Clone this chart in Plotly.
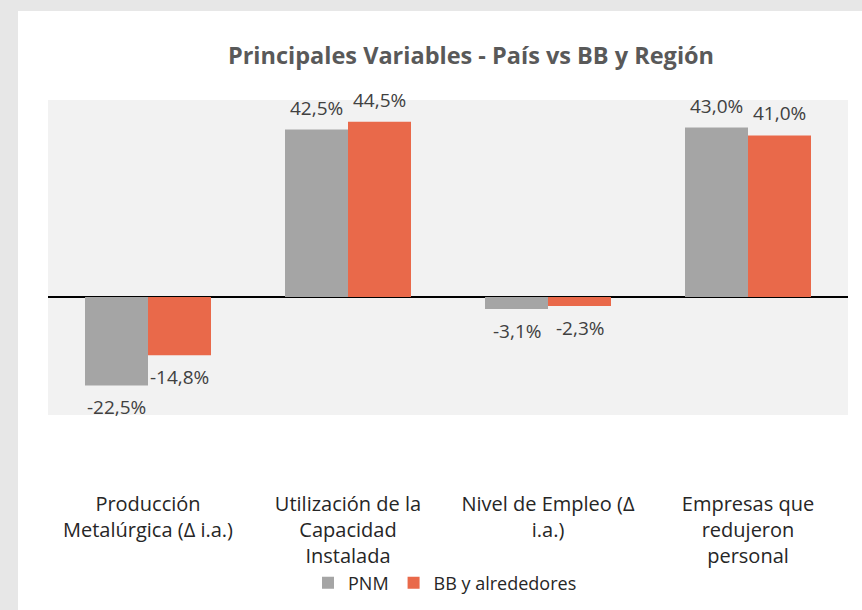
import plotly.graph_objects as go

categories = [
    "Producción<br>Metalúrgica (Δ i.a.)",
    "Utilización de la<br>Capacidad<br>Instalada",
    "Nivel de Empleo (Δ<br>i.a.)",
    "Empresas que<br>redujeron<br>personal",
]
series_names = ["PNM", "BB y alrededores"]
pnm_values = [-22.5, 42.5, -3.1, 43.0]
bb_values = [-14.8, 44.5, -2.3, 41.0]
title_text = "Principales Variables - País vs BB y Región"

colors = ["#A5A5A5", "#E9694A"]
FONT = "Open Sans"
BARGAP = 0.37

x_idx = list(range(len(categories)))

fig = go.Figure()
for name, vals, col in zip(series_names, [pnm_values, bb_values], colors):
    fig.add_trace(go.Bar(
        x=x_idx, y=vals, name=name, marker=dict(color=col, line=dict(width=0)),
        hoverinfo="y+name",
    ))

def fmt(v):
    return f"{v:.1f}%".replace(".", ",")

bw = (1 - BARGAP) / 2
annotations = []
for k, vals in enumerate([pnm_values, bb_values]):
    off = (k - 0.5) * bw
    for i, v in enumerate(vals):
        annotations.append(dict(
            x=i + off, y=v, xref="x", yref="y", text=fmt(v), showarrow=False,
            yshift=22 if v >= 0 else -22, yanchor="middle", xanchor="center",
            font=dict(family=FONT, size=19, color="#404040"),
        ))

L, R, T, B = 48, 14, 100, 195
W, H = 862, 610
pw, ph = W - L - R, H - T - B

fig.update_layout(
    width=W, height=H,
    margin=dict(l=L, r=R, t=T, b=B, pad=0, autoexpand=False),
    paper_bgcolor="#E7E7E7",
    plot_bgcolor="#F2F2F2",
    barmode="group", bargap=BARGAP, bargroupgap=0,
    title=dict(text=f"<b>{title_text}</b>", x=(471) / W, xanchor="center",
               y=1 - 56 / H, yanchor="middle",
               font=dict(family=FONT, size=23.5, color="#595959")),
    showlegend=True,
    legend=dict(orientation="h", x=(445 - L) / pw, xanchor="center",
                y=(T + ph - 583) / ph, yanchor="middle",
                font=dict(family=FONT, size=18, color="#262626"),
                bgcolor="rgba(0,0,0,0)", traceorder="normal"),
    xaxis=dict(tickmode="array", tickvals=x_idx, ticktext=categories,
               range=[-0.5, 3.5], showline=False, showgrid=False, zeroline=False,
               ticks="", ticklabelstandoff=75, automargin=False,
               tickfont=dict(family=FONT, size=20, color="#262626")),
    yaxis=dict(range=[-30, 50], showticklabels=False, showgrid=False,
               zeroline=True, zerolinecolor="#000000", zerolinewidth=2,
               showline=False, ticks="", automargin=False),
    annotations=annotations,
    shapes=[
        dict(type="rect", xref="paper", yref="paper",
             x0=(18 - L) / pw, x1=(W - L + 5) / pw,
             y0=(T + ph - H - 5) / ph, y1=(T + ph - 11) / ph,
             fillcolor="white", line=dict(width=0), layer="below"),
        dict(type="rect", xref="paper", yref="paper",
             x0=0, x1=1, y0=0, y1=1,
             fillcolor="#F2F2F2", line=dict(width=0), layer="below"),
    ],
)

fig.write_html("out.html", config={"displayModeBar": False},
               post_script="document.body.style.margin='0px';")
